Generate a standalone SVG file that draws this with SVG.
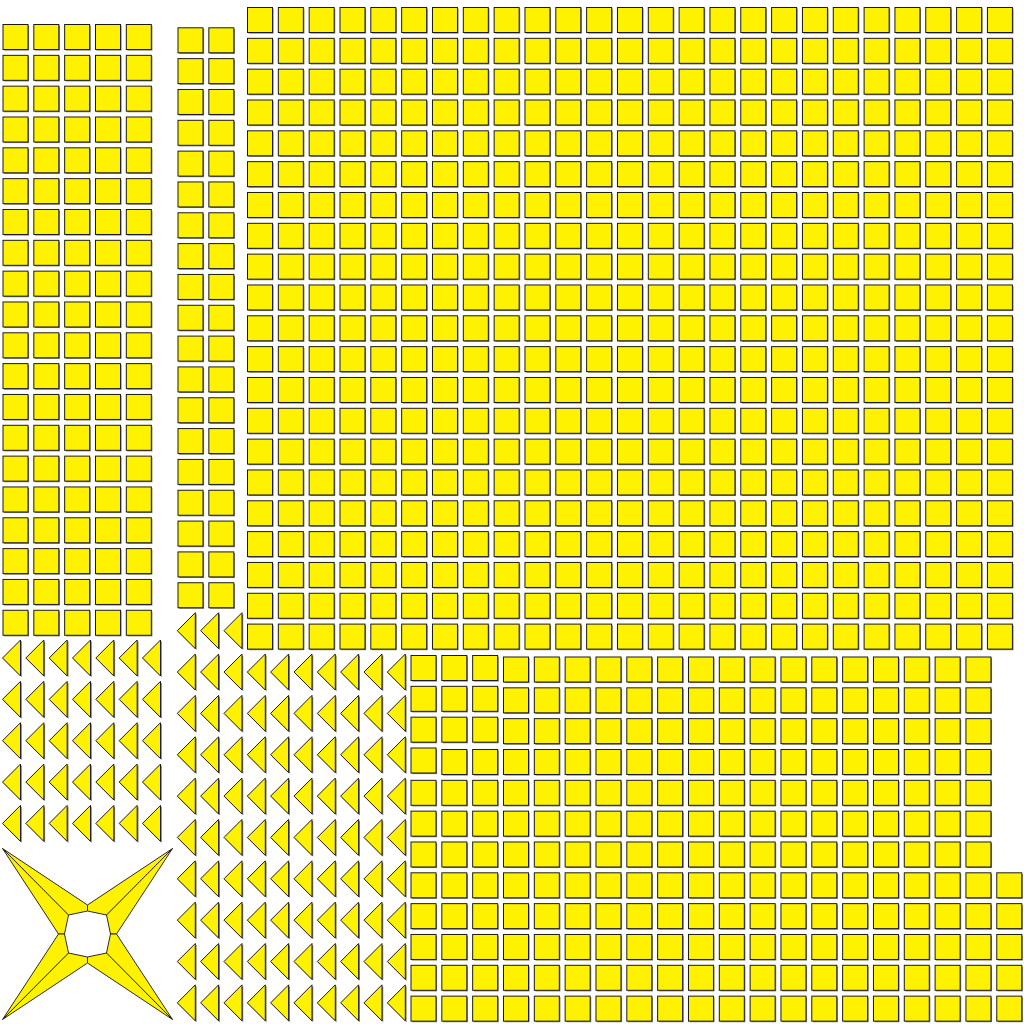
<svg xmlns="http://www.w3.org/2000/svg" xmlns:xlink="http://www.w3.org/1999/xlink" width="1024" height="1024" viewBox="0 0 1024 1024">
<style>
.sq{fill:#fff200;stroke:#1a1a1a;stroke-width:1}
.sh{fill:#7d7d7d}
.arm{fill:#fff200;stroke:#2a2a2a;stroke-width:1;stroke-linejoin:round}
.ln{stroke:#1a1a1a;stroke-width:1;fill:none}
</style>
<defs>
<g id="q"><rect class="sh" x="1.6" y="1.6" width="25" height="25"/><rect class="sq" x="0.5" y="0.5" width="25" height="25"/></g>
<g id="r2"><use href="#q"/><use href="#q" x="30.83"/></g>
<g id="r5"><use href="#q"/><use href="#q" x="30.83"/><use href="#q" x="61.66"/><use href="#q" x="92.49"/><use href="#q" x="123.32"/></g>
<g id="r16"><use href="#r5"/><use href="#r5" x="154.15"/><use href="#r5" x="308.3"/><use href="#q" x="462.45"/></g>
<g id="r20"><use href="#r5"/><use href="#r5" x="154.15"/><use href="#r5" x="308.3"/><use href="#r5" x="462.45"/></g>
<g id="r25"><use href="#r20"/><use href="#r5" x="616.6"/></g>
<g id="r19"><use href="#q"/><use href="#q" x="30.83"/><use href="#q" x="61.66"/><use href="#r16" x="92.49"/></g>
<g id="t"><polygon class="sh" points="1.2,1.2 19.3,-16.9 19.3,19.3"/><polygon class="sq" points="0,0 18,-18 18,18"/></g>
<g id="tr3"><use href="#t"/><use href="#t" x="23.33"/><use href="#t" x="46.67"/></g>
<g id="tr7"><use href="#tr3"/><use href="#tr3" x="70"/><use href="#t" x="140"/></g>
<g id="tr10"><use href="#tr7"/><use href="#tr3" x="163.33"/></g>
<g id="arm"><polygon class="arm" points="-85,-85.5 0,-29 0,-23 -19,-19 -23,0 -29,0"/><line class="ln" x1="-85" y1="-85.5" x2="-19" y2="-19"/></g>
</defs>
<rect width="1024" height="1024" fill="#ffffff"/>

<g id="block-top-left">
<use href="#r5" x="2.5" y="24"/><use href="#r5" x="2.5" y="54.83"/><use href="#r5" x="2.5" y="85.66"/><use href="#r5" x="2.5" y="116.49"/><use href="#r5" x="2.5" y="147.32"/>
<use href="#r5" x="2.5" y="178.15"/><use href="#r5" x="2.5" y="208.98"/><use href="#r5" x="2.5" y="239.81"/><use href="#r5" x="2.5" y="270.64"/><use href="#r5" x="2.5" y="301.47"/>
<use href="#r5" x="2.5" y="332.3"/><use href="#r5" x="2.5" y="363.13"/><use href="#r5" x="2.5" y="393.96"/><use href="#r5" x="2.5" y="424.79"/><use href="#r5" x="2.5" y="455.62"/>
<use href="#r5" x="2.5" y="486.45"/><use href="#r5" x="2.5" y="517.28"/><use href="#r5" x="2.5" y="548.11"/><use href="#r5" x="2.5" y="578.94"/><use href="#r5" x="2.5" y="609.77"/>
</g>

<g id="block-narrow">
<use href="#r2" x="177.5" y="27.3"/><use href="#r2" x="177.5" y="58.13"/><use href="#r2" x="177.5" y="88.96"/><use href="#r2" x="177.5" y="119.79"/><use href="#r2" x="177.5" y="150.62"/>
<use href="#r2" x="177.5" y="181.45"/><use href="#r2" x="177.5" y="212.28"/><use href="#r2" x="177.5" y="243.11"/><use href="#r2" x="177.5" y="273.94"/><use href="#r2" x="177.5" y="304.77"/>
<use href="#r2" x="177.5" y="335.6"/><use href="#r2" x="177.5" y="366.43"/><use href="#r2" x="177.5" y="397.26"/><use href="#r2" x="177.5" y="428.09"/><use href="#r2" x="177.5" y="458.92"/>
<use href="#r2" x="177.5" y="489.75"/><use href="#r2" x="177.5" y="520.58"/><use href="#r2" x="177.5" y="551.41"/><use href="#r2" x="177.5" y="582.24"/>
</g>

<g id="block-top-right">
<use href="#r25" x="247" y="7"/><use href="#r25" x="247" y="37.83"/><use href="#r25" x="247" y="68.66"/><use href="#r25" x="247" y="99.49"/><use href="#r25" x="247" y="130.32"/>
<use href="#r25" x="247" y="161.15"/><use href="#r25" x="247" y="191.98"/><use href="#r25" x="247" y="222.81"/><use href="#r25" x="247" y="253.64"/><use href="#r25" x="247" y="284.47"/>
<use href="#r25" x="247" y="315.3"/><use href="#r25" x="247" y="346.13"/><use href="#r25" x="247" y="376.96"/><use href="#r25" x="247" y="407.79"/><use href="#r25" x="247" y="438.62"/>
<use href="#r25" x="247" y="469.45"/><use href="#r25" x="247" y="500.28"/><use href="#r25" x="247" y="531.11"/><use href="#r25" x="247" y="561.94"/><use href="#r25" x="247" y="592.77"/>
<use href="#r25" x="247" y="623.6"/>
</g>

<g id="block-bottom-right">
<use href="#q" x="410.5" y="655"/><use href="#q" x="441.33" y="655"/><use href="#q" x="472.16" y="655"/><use href="#r16" x="502.99" y="656.5"/>
<use href="#q" x="410.5" y="685.83"/><use href="#q" x="441.33" y="685.83"/><use href="#q" x="472.16" y="685.83"/><use href="#r16" x="502.99" y="687.33"/>
<use href="#q" x="410.5" y="716.66"/><use href="#q" x="441.33" y="716.66"/><use href="#q" x="472.16" y="716.66"/><use href="#r16" x="502.99" y="718.16"/>
<use href="#q" x="410.5" y="747.49"/><use href="#q" x="441.33" y="748.99"/><use href="#q" x="472.16" y="748.99"/><use href="#r16" x="502.99" y="748.99"/>
<use href="#r19" x="410.5" y="779.82"/><use href="#r19" x="410.5" y="810.65"/><use href="#r19" x="410.5" y="841.48"/>
<use href="#r20" x="410.5" y="872.31"/><use href="#r20" x="410.5" y="903.14"/><use href="#r20" x="410.5" y="933.97"/><use href="#r20" x="410.5" y="964.8"/><use href="#r20" x="410.5" y="995.63"/>
</g>

<g id="triangles-left">
<use href="#tr7" x="2.5" y="658"/><use href="#tr7" x="2.5" y="699.35"/><use href="#tr7" x="2.5" y="740.7"/><use href="#tr7" x="2.5" y="782.05"/><use href="#tr7" x="2.5" y="823.4"/>
</g>

<g id="triangles-middle">
<use href="#tr3" x="177.3" y="630.7"/>
<use href="#tr10" x="177.3" y="672.05"/><use href="#tr10" x="177.3" y="713.4"/><use href="#tr10" x="177.3" y="754.75"/><use href="#tr10" x="177.3" y="796.1"/><use href="#tr10" x="177.3" y="837.45"/>
<use href="#tr10" x="177.3" y="878.8"/><use href="#tr10" x="177.3" y="920.15"/><use href="#tr10" x="177.3" y="961.5"/><use href="#tr10" x="177.3" y="1002.85"/>
</g>

<g id="star" transform="translate(87.5,934)">
<use href="#arm"/>
<use href="#arm" transform="scale(-1,1)"/>
<use href="#arm" transform="scale(1,-1)"/>
<use href="#arm" transform="scale(-1,-1)"/>
</g>
</svg>
